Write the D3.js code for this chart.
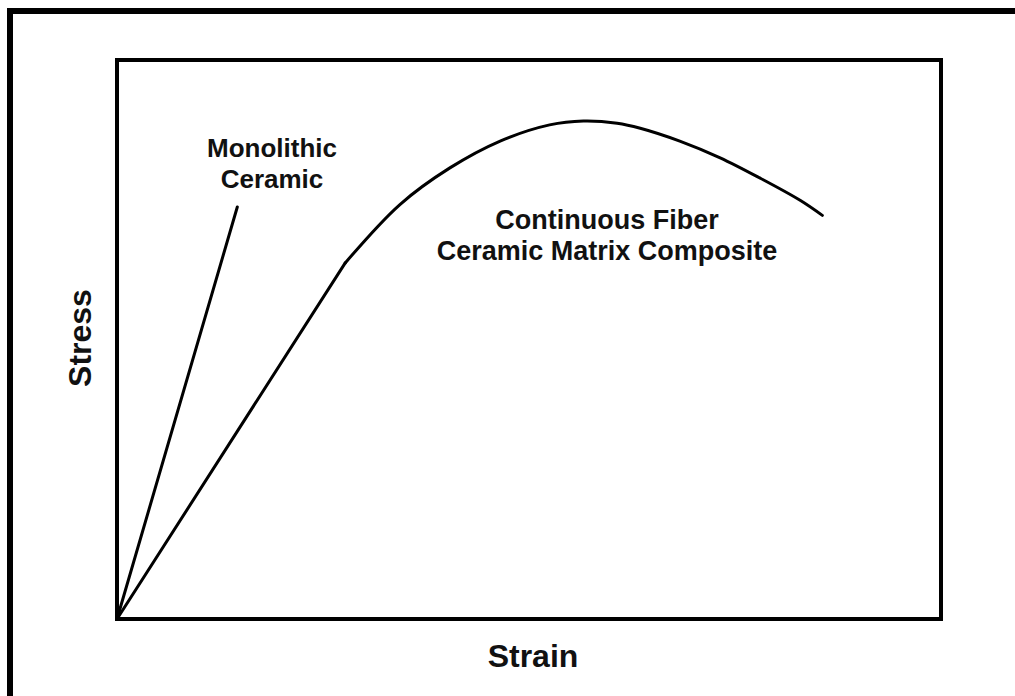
<!DOCTYPE html>
<html>
<head>
<meta charset="utf-8">
<script src="https://cdn.jsdelivr.net/npm/d3@7"></script>
<style>
  body { margin: 0; background: #fff; }
  svg { display: block; }
  text { font-family: "Liberation Sans", Arial, sans-serif; font-weight: bold; fill: #111; }
</style>
</head>
<body>
<div id="chart"></div>
<script>
// Schematic stress-strain curves (values in % of plot extent)
const monolithic = [[0, 0], [14.6, 73.7]];

// CMC: straight elastic part up to the kink, then a curved section
const cmcLinear = [[0, 0], [27.7, 63.7]];
const cmcCurve = [
  [27.7, 63.7], [34.3, 74.1], [40.4, 80.7], [46.5, 85.5], [52.5, 88.4],
  [56.6, 89.1], [60.7, 88.7], [63.5, 87.8], [68.3, 85.5], [73.2, 82.5],
  [78.0, 78.9], [82.9, 74.9], [85.6, 72.2]
];

const monoLabel = ["Monolithic", "Ceramic"];
const cmcLabel = ["Continuous Fiber", "Ceramic Matrix Composite"];
const xTitle = "Strain";
const yTitle = "Stress";

const width = 1015, height = 696;

const svg = d3.select('#chart').append('svg')
  .attr('width', width)
  .attr('height', height);

// outer frame (runs off the right and bottom edges)
svg.append('rect')
  .attr('x', 10).attr('y', 11)
  .attr('width', 1100).attr('height', 800)
  .attr('fill', 'none')
  .attr('stroke', '#000')
  .attr('stroke-width', 6);

const x = d3.scaleLinear().domain([0, 100]).range([117, 941]);
const y = d3.scaleLinear().domain([0, 100]).range([619, 60]);

// plot box
svg.append('rect')
  .attr('x', x(0)).attr('y', y(100))
  .attr('width', x(100) - x(0))
  .attr('height', y(0) - y(100))
  .attr('fill', 'none')
  .attr('stroke', '#000')
  .attr('stroke-width', 4);

const straight = d3.line().x(d => x(d[0])).y(d => y(d[1]));
const smooth = d3.line().x(d => x(d[0])).y(d => y(d[1])).curve(d3.curveCatmullRom.alpha(0.5));

[straight(monolithic), straight(cmcLinear), smooth(cmcCurve)].forEach(d => {
  svg.append('path')
    .attr('d', d)
    .attr('fill', 'none')
    .attr('stroke', '#000')
    .attr('stroke-width', 3)
    .attr('stroke-linejoin', 'round')
    .attr('stroke-linecap', 'round');
});

// curve labels
const mono = svg.append('text')
  .attr('text-anchor', 'middle')
  .attr('font-size', '26px');
monoLabel.forEach((t, i) => {
  mono.append('tspan').attr('x', 272).attr('y', 157 + i * 31).text(t);
});

const cmc = svg.append('text')
  .attr('text-anchor', 'middle')
  .attr('font-size', '27px');
cmcLabel.forEach((t, i) => {
  cmc.append('tspan').attr('x', 607).attr('y', 229 + i * 31).text(t);
});

// axis titles
svg.append('text')
  .attr('x', (x(0) + x(100)) / 2 + 4)
  .attr('y', 667)
  .attr('text-anchor', 'middle')
  .attr('font-size', '32px')
  .text(xTitle);

svg.append('text')
  .attr('transform', 'translate(91,338) rotate(-90)')
  .attr('text-anchor', 'middle')
  .attr('font-size', '32px')
  .text(yTitle);
</script>
</body>
</html>
